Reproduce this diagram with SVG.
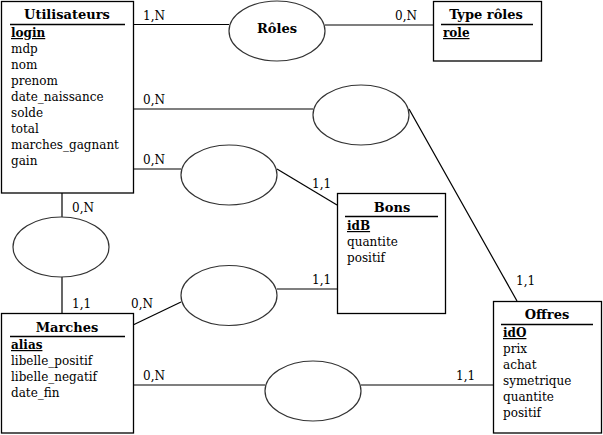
<svg xmlns="http://www.w3.org/2000/svg" width="603" height="435" viewBox="0 0 603 435">
<style>
.box{fill:#fff;stroke:#000;stroke-width:1.3}
.ell{fill:#fff;stroke:#333;stroke-width:1.2}
.ln{stroke:#000;stroke-width:1.2;fill:none}
.sep{stroke:#000;stroke-width:1.3}
text{font-family:"DejaVu Serif","Liberation Serif",serif;font-size:12px;fill:#000}
.t{font-weight:bold;font-size:13px;text-anchor:middle}
.k{font-weight:bold;text-decoration:underline}
</style>
<rect width="603" height="435" fill="#fff"/>
<g id="connectors">
<line class="ln" x1="133" y1="24.5" x2="229" y2="24.5"/>
<line class="ln" x1="325" y1="25" x2="433" y2="25"/>
<line class="ln" x1="133" y1="109" x2="313" y2="109"/>
<line class="ln" x1="409" y1="109" x2="517" y2="301"/>
<line class="ln" x1="133" y1="169" x2="181" y2="169"/>
<line class="ln" x1="277" y1="169" x2="337" y2="205"/>
<line class="ln" x1="62" y1="193" x2="62" y2="217"/>
<line class="ln" x1="62" y1="277" x2="62" y2="313"/>
<line class="ln" x1="277" y1="289" x2="337" y2="289"/>
<line class="ln" x1="181" y1="302" x2="133" y2="325"/>
<line class="ln" x1="133" y1="385" x2="265" y2="385"/>
<line class="ln" x1="361" y1="385" x2="493" y2="385"/>
<text x="143" y="20">1,N</text>
<text x="395" y="20">0,N</text>
<text x="143" y="104">0,N</text>
<text x="143" y="164">0,N</text>
<text x="312" y="188">1,1</text>
<text x="72" y="212">0,N</text>
<text x="312" y="284">1,1</text>
<text x="516" y="285">1,1</text>
<text x="72" y="308">1,1</text>
<text x="131" y="308">0,N</text>
<text x="143" y="380">0,N</text>
<text x="456" y="380">1,1</text>
</g>
<g id="roles"><ellipse class="ell" cx="277" cy="31" rx="48" ry="30"/><text class="t" x="277" y="33">Rôles</text></g>
<g id="assoc2"><ellipse class="ell" cx="361" cy="115" rx="48" ry="30"/></g>
<g id="assoc3"><ellipse class="ell" cx="229" cy="175" rx="48" ry="30"/></g>
<g id="assoc4"><ellipse class="ell" cx="61" cy="247" rx="48" ry="30"/></g>
<g id="assoc5"><ellipse class="ell" cx="229" cy="295.5" rx="48" ry="30"/></g>
<g id="assoc6"><ellipse class="ell" cx="313" cy="391" rx="48" ry="30"/></g>
<g id="utilisateurs">
<rect class="box" x="1.5" y="1.5" width="132" height="191.5"/>
<text class="t" x="67" y="19">Utilisateurs</text>
<line class="sep" x1="10" y1="24.5" x2="125" y2="24.5"/>
<text class="k" x="11" y="37">login</text>
<text x="11" y="53">mdp</text>
<text x="11" y="69">nom</text>
<text x="11" y="85">prenom</text>
<text x="11" y="101">date_naissance</text>
<text x="11" y="117">solde</text>
<text x="11" y="133">total</text>
<text x="11" y="149">marches_gagnant</text>
<text x="11" y="165">gain</text>
</g>
<g id="typeroles">
<rect class="box" x="433.5" y="1.5" width="108" height="59.5"/>
<text class="t" x="486" y="19">Type rôles</text>
<line class="sep" x1="441" y1="24.5" x2="533" y2="24.5"/>
<text class="k" x="443" y="37">role</text>
</g>
<g id="bons">
<rect class="box" x="337.5" y="193.5" width="108" height="120"/>
<text class="t" x="392" y="212">Bons</text>
<line class="sep" x1="345" y1="216.5" x2="438" y2="216.5"/>
<text class="k" x="347" y="230">idB</text>
<text x="347" y="246">quantite</text>
<text x="347" y="262">positif</text>
</g>
<g id="marches">
<rect class="box" x="1.5" y="313.5" width="132" height="119.5"/>
<text class="t" x="67" y="332">Marches</text>
<line class="sep" x1="10" y1="336.5" x2="125" y2="336.5"/>
<text class="k" x="11" y="349">alias</text>
<text x="11" y="365">libelle_positif</text>
<text x="11" y="381">libelle_negatif</text>
<text x="11" y="397">date_fin</text>
</g>
<g id="offres">
<rect class="box" x="493.5" y="301.5" width="108" height="131.5"/>
<text class="t" x="547" y="319">Offres</text>
<line class="sep" x1="501" y1="324.5" x2="593" y2="324.5"/>
<text class="k" x="503" y="337">idO</text>
<text x="503" y="353">prix</text>
<text x="503" y="369">achat</text>
<text x="503" y="385">symetrique</text>
<text x="503" y="401">quantite</text>
<text x="503" y="417">positif</text>
</g>
</svg>
